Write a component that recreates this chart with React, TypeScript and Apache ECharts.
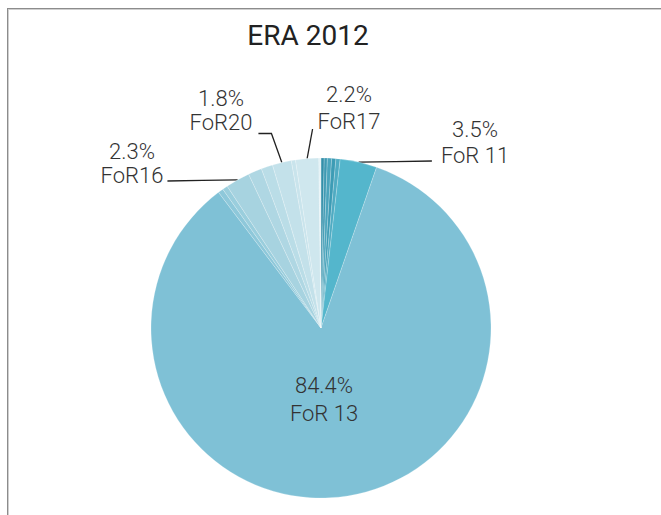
import React, { useEffect, useRef } from "react";
import * as echarts from "echarts";

const titleText = "ERA 2012";
const categories = [
  "FoR 01", "FoR 02", "FoR 03", "FoR 04", "FoR 05",
  "FoR 11", "FoR 13",
  "FoR 14", "FoR 15", "FoR16", "FoR 18", "FoR 19", "FoR20", "FoR 21", "FoR17", "FoR 22",
];
const values = [0.3, 0.3, 0.4, 0.4, 0.4, 3.5, 84.4, 0.5, 0.5, 2.3, 1.3, 1.1, 1.8, 0.4, 2.2, 0.2];
const colors = [
  "#338fa9", "#3f9ab3", "#4aa4bc", "#3d9cb5", "#4fabc2",
  "#54b6cc", "#7fc1d6",
  "#8ec8da", "#9acedd", "#a7d3e0", "#afd7e3", "#badde7", "#c3e1ea", "#c9e4ec", "#cfe7ee", "#e4f1f5",
];
const labeled = ["FoR 11", "FoR 13", "FoR16", "FoR20", "FoR17"];

const FONT = "Roboto, 'Helvetica Neue', Arial, sans-serif";

// label placement (styling only)
const labelPos: Record<string, { x: number; y: number; lh: number; guide?: string }> = {
  "FoR 11": { x: 475, y: 142, lh: 26, guide: "rightHoriz" },
  "FoR 13": { x: 324, y: 399, lh: 28 },
  "FoR16": { x: 132, y: 163, lh: 24, guide: "leftHoriz" },
  "FoR20": { x: 221, y: 110.5, lh: 24, guide: "leftElbow" },
  "FoR17": { x: 349, y: 108, lh: 27, guide: "upRight" },
};

export default function App() {
  const ref = useRef<HTMLDivElement>(null);
  useEffect(() => {
    if (!ref.current) return;
    const chart = echarts.init(ref.current, undefined, { renderer: "svg" });
    const data = categories.map((name, i) => {
      const show = labeled.includes(name);
      const pos = labelPos[name];
      return {
        name,
        value: values[i],
        itemStyle: { color: colors[i] },
        label: show
          ? {
              show: true,
              position: name === "FoR 13" ? "inside" : "outside",
              lineHeight: pos.lh,
            }
          : { show: false },
        labelLine: { show: show && name !== "FoR 13" },
      };
    });
    chart.setOption({
      animation: false,
      backgroundColor: "transparent",
      title: {
        text: titleText,
        left: 308,
        top: 21,
        textAlign: "center",
        padding: 0,
        textStyle: { fontFamily: FONT, fontSize: 28, fontWeight: "normal", color: "#222" },
      },
      series: [
        {
          type: "pie",
          center: [321, 328],
          radius: 170,
          startAngle: 90,
          clockwise: true,
          avoidLabelOverlap: false,
          data,
          itemStyle: { borderColor: "rgba(255,255,255,0.35)", borderWidth: 0.6 },
          emphasis: { disabled: true },
          label: {
            fontFamily: FONT,
            fontWeight: 300,
            fontSize: 22,
            color: "#333",
            formatter: (p: any) => `${p.value.toFixed(1)}%\n${p.name}`,
          },
          labelLine: {
            lineStyle: { color: "#222", width: 1.3 },
            length: 10,
            length2: 20,
          },
          labelLayout: (params: any) => {
            const name = categories[params.dataIndex];
            const pos = labelPos[name];
            if (!pos) return {};
            const w = params.labelRect.width;
            const h = params.labelRect.height;
            const left = pos.x - w / 2;
            const right = pos.x + w / 2;
            const bottom = pos.y + h / 2;
            const out: any = {
              x: pos.x,
              y: pos.y,
              align: "center",
              verticalAlign: "middle",
              hideOverlap: false,
              moveOverlap: null,
            };
            const pts = params.labelLinePoints;
            if (pts && pos.guide) {
              const p0 = pts[0];
              if (pos.guide === "rightHoriz") {
                const end = [left - 9, bottom - 7];
                out.labelLinePoints = [p0, [(p0[0] + end[0]) / 2, (p0[1] + end[1]) / 2], end];
              } else if (pos.guide === "leftHoriz") {
                const end = [right + 4, bottom - 6];
                out.labelLinePoints = [p0, [(p0[0] + end[0]) / 2, (p0[1] + end[1]) / 2], end];
              } else if (pos.guide === "leftElbow") {
                out.labelLinePoints = [p0, [right + 19, bottom - 1], [right + 6, bottom - 1]];
              } else if (pos.guide === "upRight") {
                const end = [left - 5, bottom - 6];
                out.labelLinePoints = [p0, [(p0[0] + end[0]) / 2, (p0[1] + end[1]) / 2], end];
              }
            }
            return out;
          },
        },
      ],
    });
    return () => chart.dispose();
  }, []);
  return (
    <div style={{ position: "absolute", left: 0, top: 0, width: 661, height: 515, background: "#fff", overflow: "hidden" }}>
      <div
        style={{
          position: "absolute",
          left: 7,
          top: 8,
          right: -4,
          bottom: -4,
          borderTop: "1px solid #8c8c8c",
          borderLeft: "1px solid #8c8c8c",
          boxShadow: "inset 1px 1px 0 #cfcfcf",
        }}
      />
      <div ref={ref} style={{ position: "absolute", left: 0, top: 0, width: 661, height: 515 }} />
    </div>
  );
}
